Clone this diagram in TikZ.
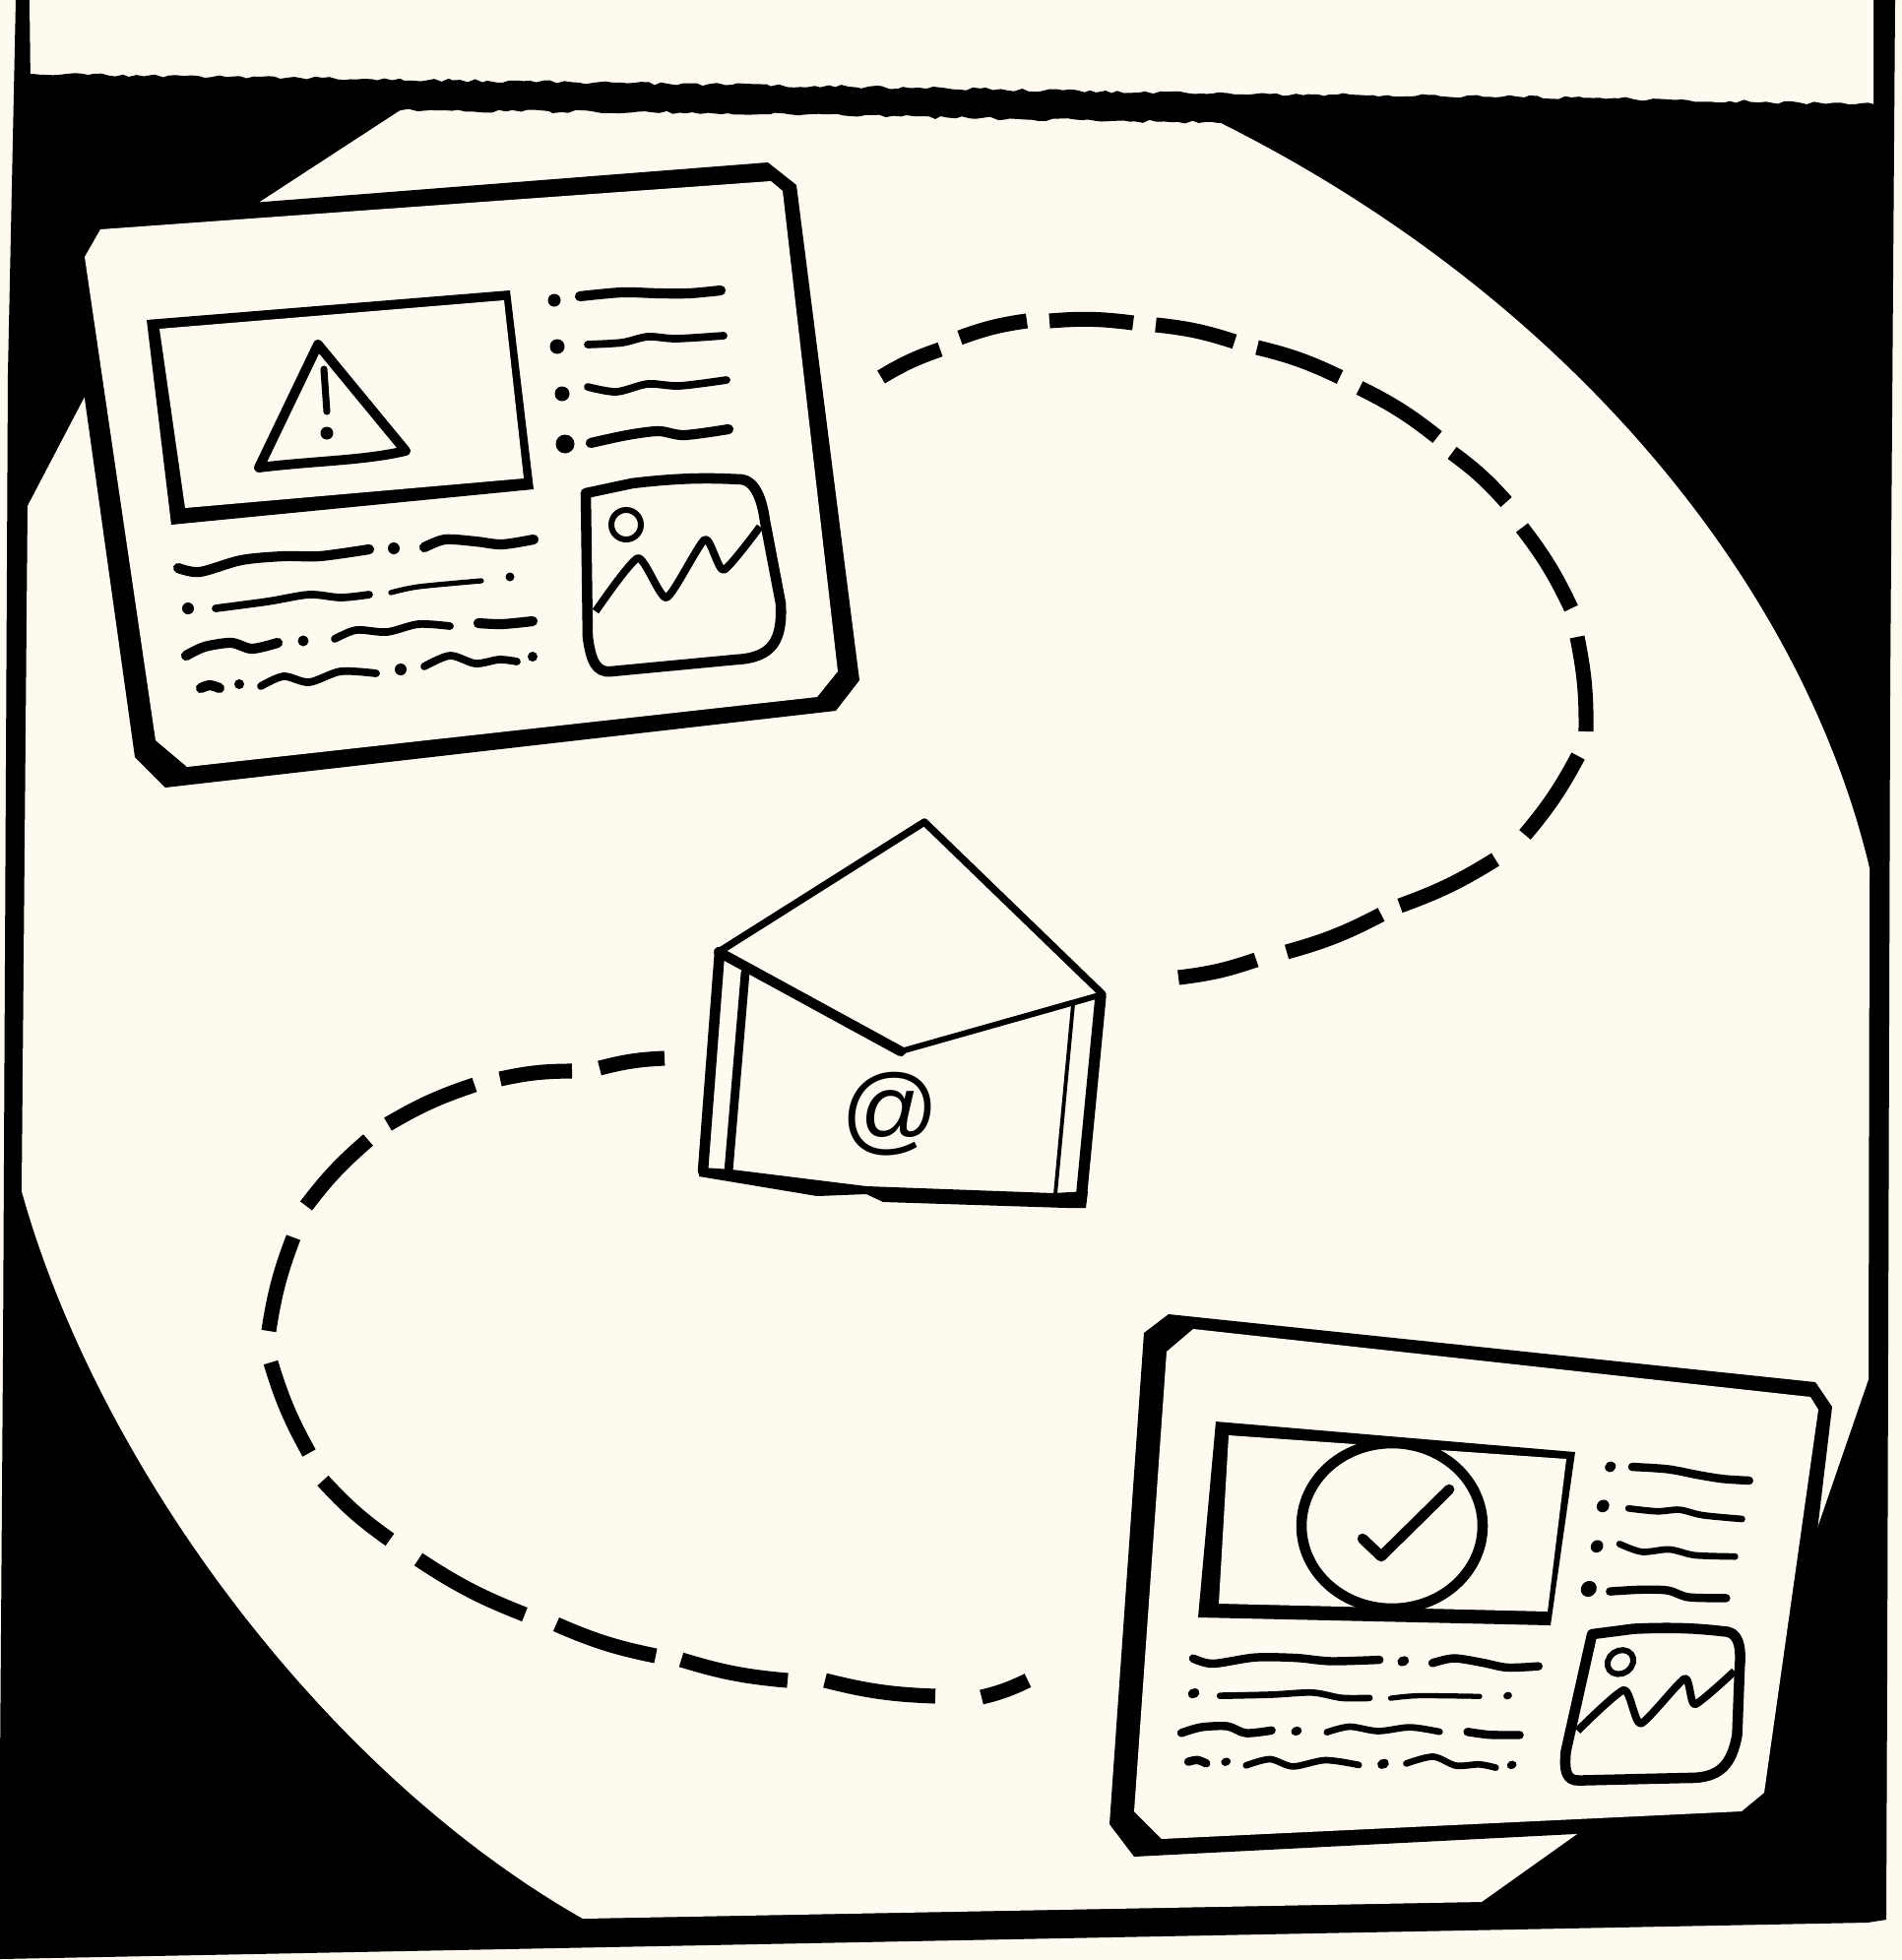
\documentclass[tikz,border=0pt]{standalone}
\usepackage{fontspec}
\setmainfont{Liberation Sans}
\usetikzlibrary{decorations.pathmorphing}
\definecolor{paper}{HTML}{FFFAF0}
\tikzset{
  rough/.style={decorate,decoration={random steps,segment length=4pt,amplitude=1pt}},
  wave/.style={line width=4.4pt,line cap=round,line join=round},
  fatwave/.style={wave,line width=5.8pt},
  thinwave/.style={wave,line width=3pt},
  dashpiece/.style={line width=8.6pt,line cap=butt},
  flap/.style={line join=round,line cap=round}
}
\newcommand{\panellist}{%
  \fill (563,305) circle[radius=6.5] (566,352) circle[radius=7.5] (571,400) circle[radius=7.5] (574,451) circle[radius=9.5];
  \draw[fatwave] plot[smooth] coordinates {(589,301) (632,297) (669,298) (700,298) (732,295)};
  \draw[wave] plot[smooth] coordinates {(597,350) (632,348) (658,342) (687,344) (735,341)};
  \draw[wave] plot[smooth] coordinates {(597,393) (626,398) (658,390) (690,392) (738,386)};
  \draw[fatwave] plot[smooth] coordinates {(600,450) (637,442) (669,438) (695,442) (740,436)};
}
\newcommand{\paneltext}{%
  \fill (400,557) circle[radius=6] (518,586) circle[radius=4.5] (191,618) circle[radius=6] (308,651) circle[radius=5.5];
  \fill (243,695) circle[radius=5] (407,680) circle[radius=6] (541,667) circle[radius=5];
  \draw[fatwave] plot[smooth] coordinates {(181,577) (203,581) (245,569) (288,565) (325,565) (375,558)};
  \draw[fatwave] plot[smooth] coordinates {(431,556) (452,548) (483,550) (510,553) (542,548)};
  \draw[wave] plot[smooth] coordinates {(219,618) (272,611) (314,604) (346,607) (375,604)};
  \draw[thinwave] plot[smooth] coordinates {(397,602) (425,596) (489,590)};
  \draw[fatwave] plot[smooth] coordinates {(189,666) (208,657) (235,653) (256,659) (282,653)};
  \draw[wave] plot[smooth] coordinates {(340,649) (362,640) (393,642) (425,634) (457,636)};
  \draw[fatwave] plot[smooth] coordinates {(486,633) (510,634) (541,631)};
  \draw[fatwave] plot[smooth] coordinates {(204,699) (213,696) (223,699)};
  \draw[wave] plot[smooth] coordinates {(265,697) (288,687) (314,693) (346,682) (382,684)};
  \draw[wave] plot[smooth] coordinates {(431,677) (457,666) (483,674) (507,670) (525,672)};
}
\newcommand{\panelimage}{%
  \draw[line width=6pt,line join=round] (595,501) -- (642,491) .. controls (700,484) and (730,486) .. (753,487) .. controls (770,489) and (775,515) .. (777,529) -- (793,613) .. controls (795,650) and (785,668) .. (748,670) -- (621,682) .. controls (605,684) and (600,670) .. (597,647) -- cycle;
  \draw[line width=3.4pt] (636,533) circle[x radius=15,y radius=15];
  \draw[line width=4.4pt,line join=round] plot[smooth,tension=.35] coordinates {(605,621) (648,567) (677,607) (716,548) (735,579) (772,535)};
}
\begin{document}
\begin{tikzpicture}[x=0.02cm,y=-0.02cm]
\useasboundingbox (0,0) rectangle (1932,1991);
\pgfmathsetseed{11}
\fill[paper] (0,0) rectangle (1932,1991);
\fill (16,0) -- (1925,0) -- (1920,700) -- (1917,1700) -- (1916,1950) -- (1897,1953) -- (0,1990) -- (0,1800) -- (3,1380) -- (8,380) -- cycle;
\fill[paper] (30,0) -- (1903,0) -- (1903,116) -- (31,86) -- cycle;
\fill[paper] (422,102) -- (1225,115) -- (1240,125) .. controls (1590,300) and (1830,590) .. (1899,882)
  -- (1898,1401) -- (1845,1555) -- (1602,1863) -- (1505,1932) -- (592,1949) .. controls (330,1800) and (100,1490) .. (22,1210)
  -- (28,514) -- (85,405) -- (264,205) -- cycle;
\fill[rough] (25,75) -- (370,80) -- (862,88) -- (1232,95) -- (1540,98) -- (1910,106) -- (1910,125) -- (1238,125) -- (739,115) -- (407,112) -- (25,112) -- cycle;
% warning panel
\fill (102,218) -- (780,165) -- (809,188) -- (873,691) -- (849,722) -- (168,800) -- (137,769) -- (66,262) -- cycle;
\fill[paper] (86,261) -- (102,233) -- (783,184) -- (795,194) -- (851,682) -- (830,708) -- (190,779) -- (158,752) -- cycle;
\fill (149,325) -- (518,295) -- (542,497) -- (174,533) -- cycle;
\fill[paper] (162,334) -- (512,305) -- (532,486) -- (188,516) -- cycle;
\draw[line width=5.6pt,line join=round] (323,350) -- (263,475) .. controls (320,468) and (370,468) .. (412,458) -- cycle;
\draw[line width=4pt,line cap=round] (329,375) -- (332,418);
\fill (332,440) circle[radius=6.5];
\panellist
\paneltext
\panelimage
% done panel
\fill (1187,1335) -- (1844,1404) -- (1861,1429) -- (1846,1555) -- (1800,1840) -- (1600,1863) -- (1152,1886) -- (1127,1853) -- (1162,1354) -- cycle;
\fill[paper] (1212,1350) -- (1839,1419) -- (1847,1432) -- (1792,1821) -- (1769,1840) -- (1180,1868) -- (1152,1840) -- (1185,1373) -- cycle;
\fill (1235,1444) -- (1600,1475) -- (1575,1651) -- (1217,1643) -- cycle;
\fill[paper] (1248,1458) -- (1591,1482) -- (1572,1637) -- (1238,1629) -- cycle;
\draw[line width=6pt,fill=paper] (1414,1550) ellipse[x radius=92,y radius=84];
\draw[line width=6pt,line cap=round,line join=round] (1384,1563) -- (1403,1581) -- (1472,1513);
\begin{scope}[cm={0.8217,-0.1325,0.2126,0.8393,(1238,1159.4)},fatwave/.append style={line width=4.8pt},wave/.append style={line width=3.8pt}]
\panellist
\end{scope}
\begin{scope}[cm={0.954,-0.0897,0.2196,0.843,(1166,1182)},fatwave/.append style={line width=4.8pt},wave/.append style={line width=3.8pt}]
\paneltext
\end{scope}
\begin{scope}[cm={0.854,-0.0563,0.1936,0.8125,(1206,1219.5)}]
\panelimage
\end{scope}
% envelope
\draw[flap,line width=4.2pt] (730,967) -- (939,835) -- (1120,1010);
\draw[flap,line width=5.8pt] (730,967) -- (915,1068);
\draw[flap,line width=3.4pt] (915,1068) -- (1120,1010);
\draw[flap,line width=6pt] (731,967) -- (714,1190);
\draw[flap,line width=5pt] (757,988) -- (740,1190);
\draw[flap,line width=2.2pt] (1090,1020) -- (1072,1213);
\draw[flap,line width=6.4pt] (1118,1012) -- (1098,1220);
\fill (713,1186) -- (743,1188) -- (880,1205) -- (1070,1212) -- (1105,1210) -- (1103,1227) -- (1083,1227) -- (897,1221) -- (880,1213) -- (830,1215) -- (710,1195) -- cycle;
\node (atsign) at (904,1132) {\fontsize{56}{56}\selectfont @};
% dashes
\foreach \xa/\ya/\xb/\yb in {895/383/955/355,975/343/1043/326,1066/326/1151/328,1174/330/1254/347,1277/353/1361/383,1381/394/1460/444,1475/460/1530/510,1546/536/1596/618,1602/647/1611/743,1603/768/1549/848,1519/873/1422/920,1403/929/1307/967,1276/975/1197/993}
  \draw[dashpiece] (\xa,\ya) to[bend left=6] (\xb,\yb);
\foreach \xa/\ya/\xb/\yb in {675/1075/609/1085,581/1088/508/1096,482/1102/394/1142,374/1158/311/1225,298/1257/273/1352,275/1384/314/1476,328/1504/396/1564,425/1584/533/1640,565/1650/666/1682,692/1686/800/1707,838/1707/950/1723,997/1724/1044/1707}
  \draw[dashpiece] (\xa,\ya) to[bend right=6] (\xb,\yb);
\end{tikzpicture}
\end{document}
